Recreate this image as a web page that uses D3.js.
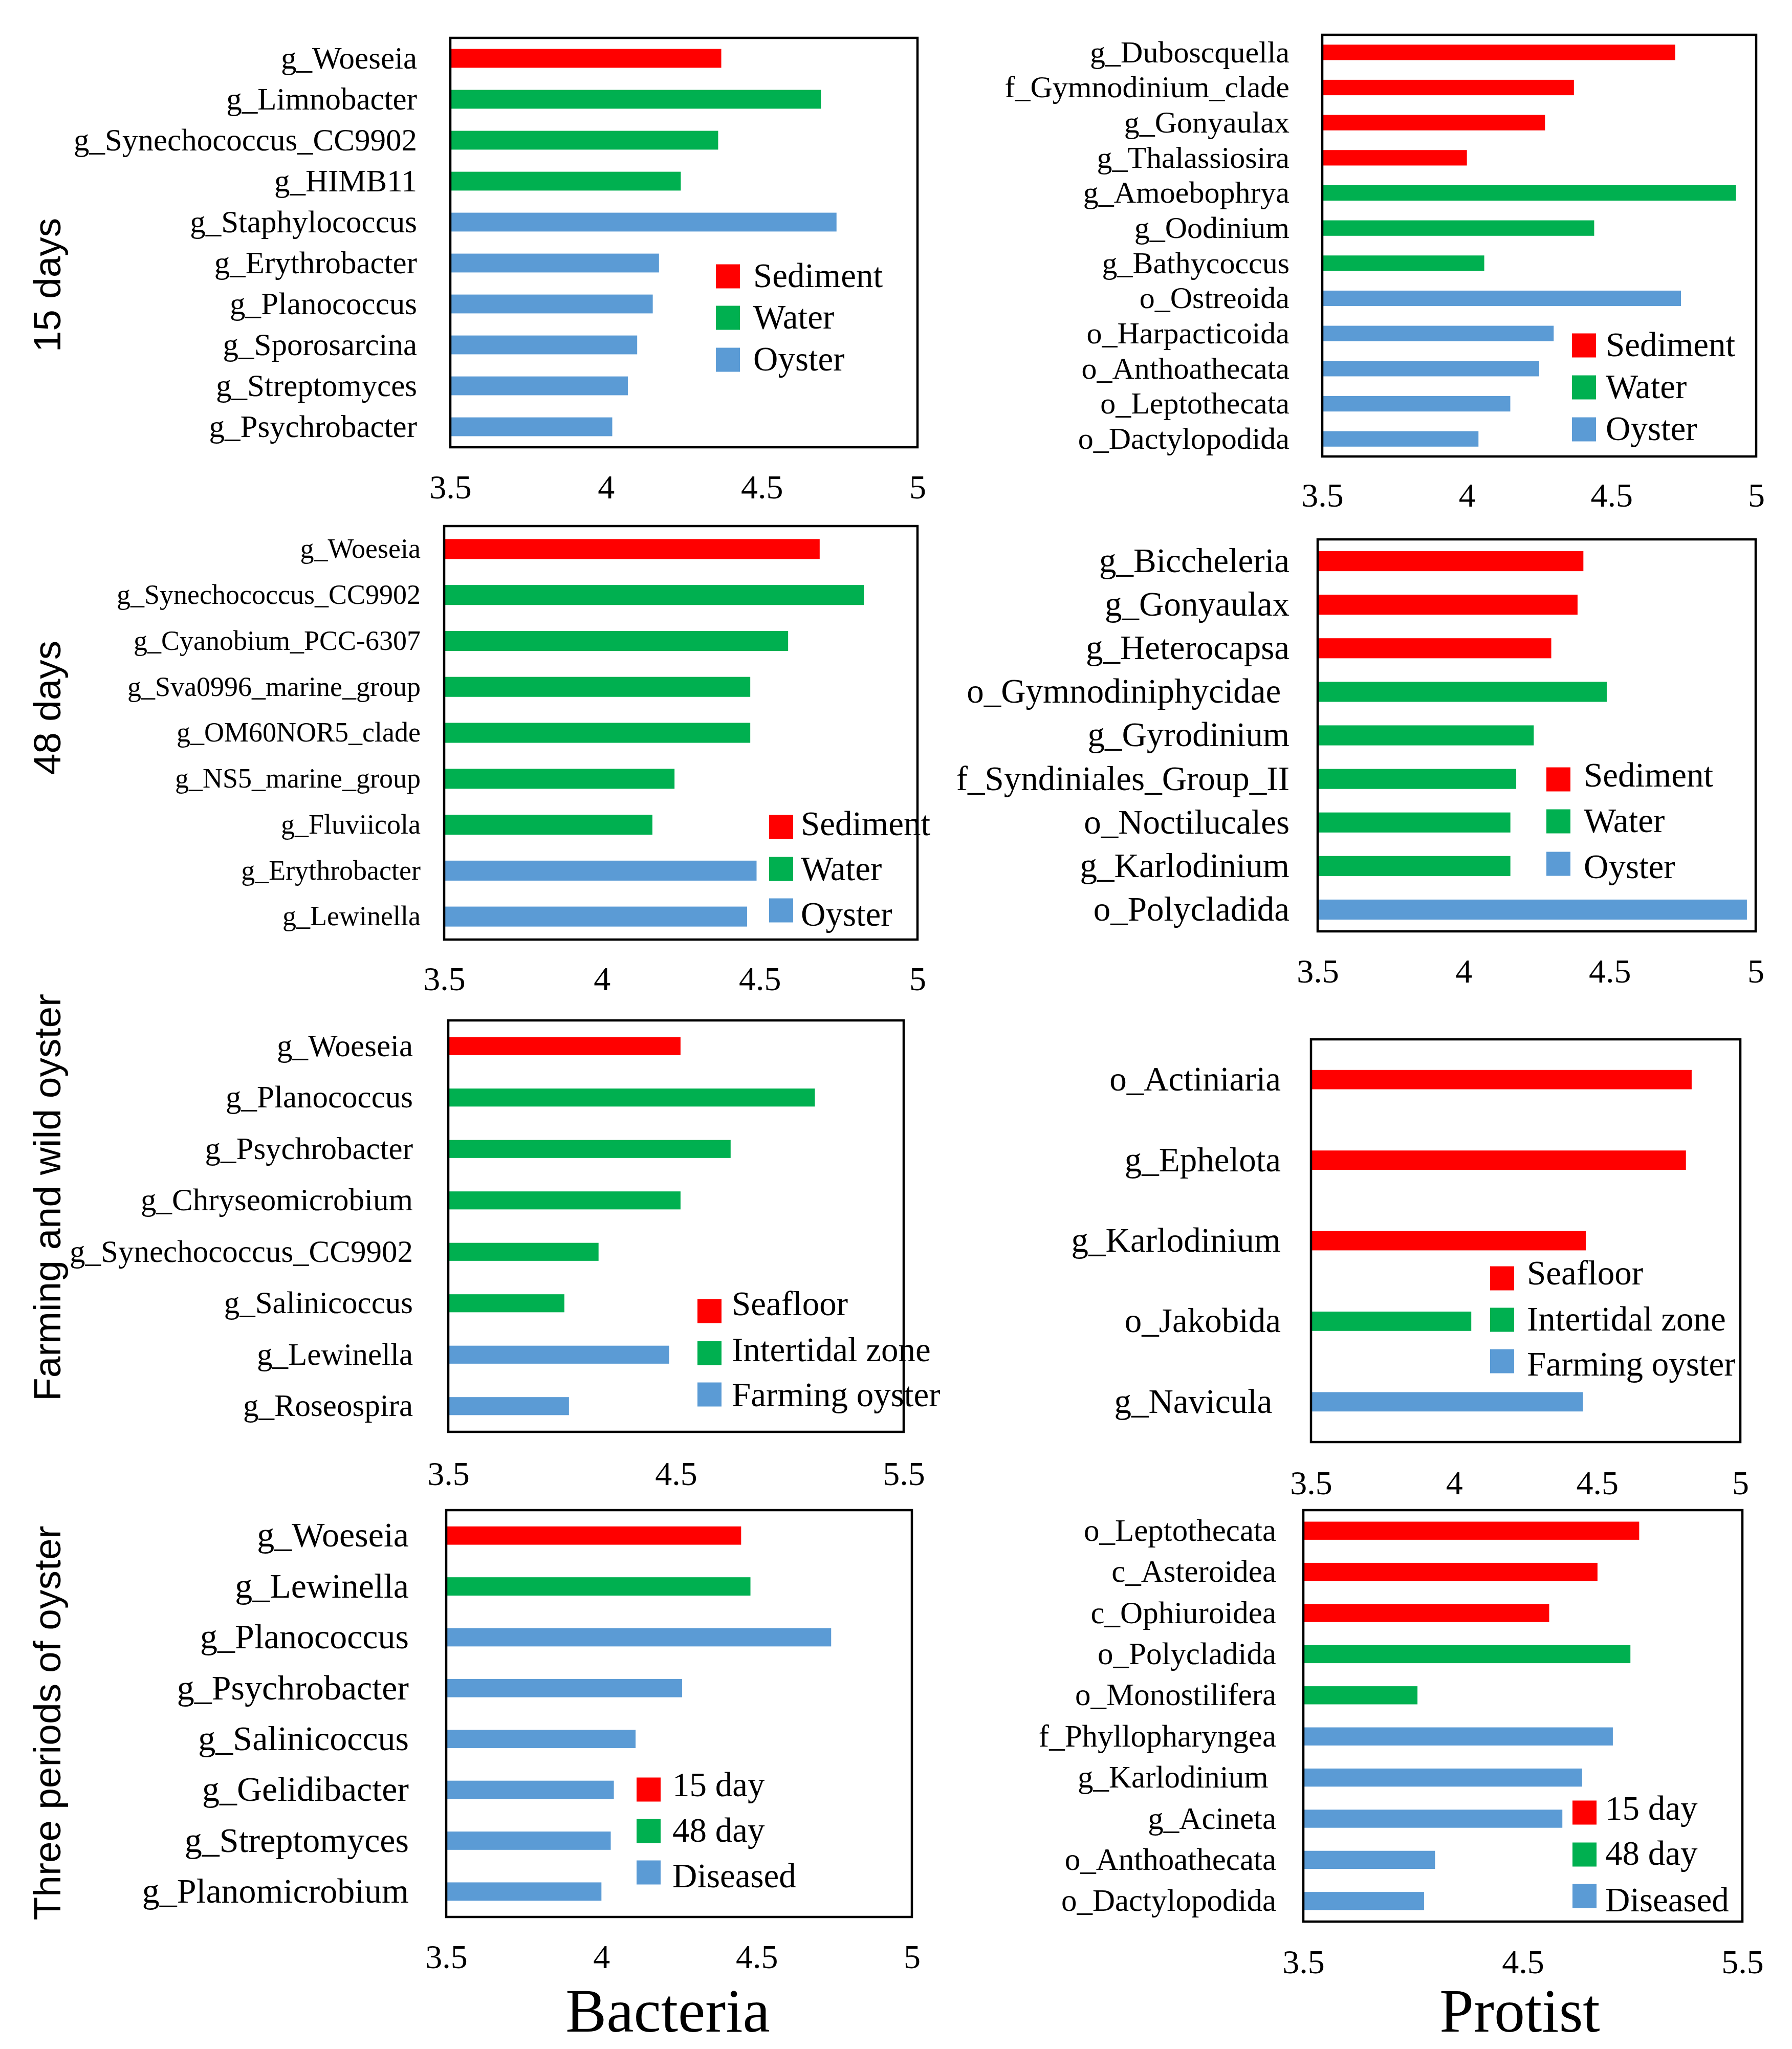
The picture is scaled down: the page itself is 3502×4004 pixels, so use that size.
<!DOCTYPE html>
<html>
<head>
<meta charset="utf-8">
<script src="https://cdn.jsdelivr.net/npm/d3@7"></script>
<style>
  html, body { margin: 0; padding: 0; background: #fff; }
  svg { display: block; }
  svg text { white-space: pre; }
</style>
</head>
<body>
<svg id="chart" width="3502" height="4004"></svg>
<script>
// ---------------- DATA ----------------
const colorsList = ["#FF0000", "#00B050", "#5B9BD5"];

const ticksA = [3.5, 4, 4.5, 5];
const ticksB = [3.5, 4.5, 5.5];

const legendHabitat = ["Sediment", "Water", "Oyster"];
const legendFarm = ["Seafloor", "Intertidal zone", "Farming oyster"];
const legendPeriod = ["15 day", "48 day", "Diseased"];

const rowTitles = ["15 days", "48 days", "Farming and wild oyster", "Three periods of oyster"];
const columnTitles = ["Bacteria", "Protist"];

// 15 days - Bacteria
const bac15Categories = ["g_Woeseia", "g_Limnobacter", "g_Synechococcus_CC9902", "g_HIMB11", "g_Staphylococcus",
  "g_Erythrobacter", "g_Planococcus", "g_Sporosarcina", "g_Streptomyces", "g_Psychrobacter"];
const bac15Values = [4.37, 4.69, 4.36, 4.24, 4.74, 4.17, 4.15, 4.10, 4.07, 4.02];
const bac15Groups = [0, 1, 1, 1, 2, 2, 2, 2, 2, 2];

// 15 days - Protist
const pro15Categories = ["g_Duboscquella", "f_Gymnodinium_clade", "g_Gonyaulax", "g_Thalassiosira", "g_Amoebophrya",
  "g_Oodinium", "g_Bathycoccus", "o_Ostreoida", "o_Harpacticoida", "o_Anthoathecata", "o_Leptothecata", "o_Dactylopodida"];
const pro15Values = [4.72, 4.37, 4.27, 4.00, 4.93, 4.44, 4.06, 4.74, 4.30, 4.25, 4.15, 4.04];
const pro15Groups = [0, 0, 0, 0, 1, 1, 1, 2, 2, 2, 2, 2];

// 48 days - Bacteria
const bac48Categories = ["g_Woeseia", "g_Synechococcus_CC9902", "g_Cyanobium_PCC-6307", "g_Sva0996_marine_group",
  "g_OM60NOR5_clade", "g_NS5_marine_group", "g_Fluviicola", "g_Erythrobacter", "g_Lewinella"];
const bac48Values = [4.69, 4.83, 4.59, 4.47, 4.47, 4.23, 4.16, 4.49, 4.46];
const bac48Groups = [0, 1, 1, 1, 1, 1, 1, 2, 2];

// 48 days - Protist
const pro48Categories = ["g_Biccheleria", "g_Gonyaulax", "g_Heterocapsa", "o_Gymnodiniphycidae ", "g_Gyrodinium",
  "f_Syndiniales_Group_II", "o_Noctilucales", "g_Karlodinium", "o_Polycladida"];
const pro48Values = [4.41, 4.39, 4.30, 4.49, 4.24, 4.18, 4.16, 4.16, 4.97];
const pro48Groups = [0, 0, 0, 1, 1, 1, 1, 1, 2];

// Farming and wild oyster - Bacteria
const bacFarmCategories = ["g_Woeseia", "g_Planococcus", "g_Psychrobacter", "g_Chryseomicrobium",
  "g_Synechococcus_CC9902", "g_Salinicoccus", "g_Lewinella", "g_Roseospira"];
const bacFarmValues = [4.52, 5.11, 4.74, 4.52, 4.16, 4.01, 4.47, 4.03];
const bacFarmGroups = [0, 1, 1, 1, 1, 1, 2, 2];

// Farming and wild oyster - Protist
const proFarmCategories = ["o_Actiniaria", "g_Ephelota", "g_Karlodinium", "o_Jakobida", "g_Navicula "];
const proFarmValues = [4.83, 4.81, 4.46, 4.06, 4.45];
const proFarmGroups = [0, 0, 0, 1, 2];

// Three periods of oyster - Bacteria
const bacPerCategories = ["g_Woeseia", "g_Lewinella", "g_Planococcus", "g_Psychrobacter", "g_Salinicoccus",
  "g_Gelidibacter", "g_Streptomyces", "g_Planomicrobium"];
const bacPerValues = [4.45, 4.48, 4.74, 4.26, 4.11, 4.04, 4.03, 4.00];
const bacPerGroups = [0, 1, 2, 2, 2, 2, 2, 2];

// Three periods of oyster - Protist
const proPerCategories = ["o_Leptothecata", "c_Asteroidea", "c_Ophiuroidea", "o_Polycladida", "o_Monostilifera",
  "f_Phyllopharyngea", "g_Karlodinium ", "g_Acineta", "o_Anthoathecata", "o_Dactylopodida"];
const proPerValues = [5.03, 4.84, 4.62, 4.99, 4.02, 4.91, 4.77, 4.68, 4.10, 4.05];
const proPerGroups = [0, 0, 0, 1, 1, 2, 2, 2, 2, 2];

// ---------------- LAYOUT ----------------
const panels = [
  { cats: bac15Categories, vals: bac15Values, groups: bac15Groups, legend: legendHabitat, ticks: ticksA,
    box: [880, 74, 1793, 874], barFrac: 0.46, labelX: 815, labelFont: 61, tickBase: 974,
    legX: 1399, legTextX: 1472, legY: [540, 621, 703], legTextY: [561, 642, 724] },
  { cats: pro15Categories, vals: pro15Values, groups: pro15Groups, legend: legendHabitat, ticks: ticksA,
    box: [2584, 68, 3432, 892], barFrac: 0.44, labelX: 2520, labelFont: 60, tickBase: 990,
    legX: 3072, legTextX: 3138, legY: [675, 757, 839], legTextY: [696, 778, 860] },
  { cats: bac48Categories, vals: bac48Values, groups: bac48Groups, legend: legendHabitat, ticks: ticksA,
    box: [868, 1028, 1793, 1836], barFrac: 0.435, labelX: 822, labelFont: 54, tickBase: 1935,
    legX: 1503, legTextX: 1565, legY: [1616, 1698, 1779], legTextY: [1632, 1720, 1809] },
  { cats: pro48Categories, vals: pro48Values, groups: pro48Groups, legend: legendHabitat, ticks: ticksA,
    box: [2575, 1054, 3431, 1820], barFrac: 0.46, labelX: 2520, labelFont: 67, tickBase: 1920,
    legX: 3022, legTextX: 3095, legY: [1523, 1605, 1688], legTextY: [1537, 1626, 1716] },
  { cats: bacFarmCategories, vals: bacFarmValues, groups: bacFarmGroups, legend: legendFarm, ticks: ticksB,
    box: [876, 1994, 1766, 2798], barFrac: 0.35, labelX: 807, labelFont: 61, tickBase: 2902,
    legX: 1363, legTextX: 1430, legY: [2562, 2644, 2725], legTextY: [2570, 2660, 2748] },
  { cats: proFarmCategories, vals: proFarmValues, groups: proFarmGroups, legend: legendFarm, ticks: ticksA,
    box: [2562, 2031, 3401, 2818], barFrac: 0.24, labelX: 2503, labelFont: 67, tickBase: 2920,
    legX: 2912, legTextX: 2984, legY: [2498, 2579, 2660], legTextY: [2510, 2600, 2688] },
  { cats: bacPerCategories, vals: bacPerValues, groups: bacPerGroups, legend: legendPeriod, ticks: ticksA,
    box: [872, 2951, 1782, 3746], barFrac: 0.36, labelX: 799, labelFont: 68, tickBase: 3846,
    legX: 1244, legTextX: 1314, legY: [3497, 3578, 3659], legTextY: [3510, 3599, 3688] },
  { cats: proPerCategories, vals: proPerValues, groups: proPerGroups, legend: legendPeriod, ticks: ticksB,
    box: [2547, 2951, 3405, 3755], barFrac: 0.44, labelX: 2494, labelFont: 61, tickBase: 3856,
    legX: 3073, legTextX: 3137, legY: [3542, 3624, 3705], legTextY: [3556, 3644, 3735] }
];

const rowTitleY = [557, 1383, 2340, 3367];
const rowTitleX = 118;
const colTitleX = [1305, 2970];
const colTitleY = 3970;

const SERIF = "'Liberation Serif', 'Times New Roman', serif";
const SANS = "'Liberation Sans', Arial, sans-serif";
const TICK_FONT = 66;
const LEG_FONT = 67;
const LEG_SQ = 47;

// ---------------- DRAW ----------------
const svg = d3.select("#chart");
svg.append("rect").attr("width", 3502).attr("height", 4004).attr("fill", "#fff");

panels.forEach(p => {
  const [x0, y0, x1, y1] = p.box;
  const maxTick = p.ticks[p.ticks.length - 1];
  const x = d3.scaleLinear().domain([p.ticks[0], maxTick]).range([x0, x1]);
  const pi = 1 - p.barFrac;
  const y = d3.scaleBand().domain(p.cats).range([y0, y1]).paddingInner(pi).paddingOuter(pi / 2);
  const color = d3.scaleOrdinal().domain([0, 1, 2]).range(colorsList);

  const g = svg.append("g");

  // bars
  g.selectAll("rect.bar").data(p.cats).join("rect")
    .attr("class", "bar")
    .attr("x", x(p.ticks[0]))
    .attr("y", d => y(d))
    .attr("width", (d, i) => x(p.vals[i]) - x(p.ticks[0]))
    .attr("height", y.bandwidth())
    .attr("fill", (d, i) => color(p.groups[i]));

  // frame
  g.append("rect")
    .attr("x", x0).attr("y", y0)
    .attr("width", x1 - x0).attr("height", y1 - y0)
    .attr("fill", "none").attr("stroke", "#000").attr("stroke-width", 4.5);

  // category axis
  const yAxis = d3.axisLeft(y).tickSize(0).tickPadding(0);
  const ya = g.append("g").attr("transform", `translate(${p.labelX},0)`).call(yAxis);
  ya.select(".domain").remove();
  ya.selectAll("text").attr("font-family", SERIF).attr("font-size", p.labelFont).attr("fill", "#000");

  // value axis
  const xAxis = d3.axisBottom(x).tickValues(p.ticks).tickFormat(d => String(d)).tickSize(0).tickPadding(0);
  const xa = g.append("g").attr("transform", `translate(0,${p.tickBase - 0.71 * TICK_FONT})`).call(xAxis);
  xa.select(".domain").remove();
  xa.selectAll("text").attr("font-family", SERIF).attr("font-size", TICK_FONT).attr("fill", "#000");

  // legend
  const lg = g.append("g");
  p.legend.forEach((name, i) => {
    lg.append("rect")
      .attr("x", p.legX).attr("y", p.legY[i] - LEG_SQ / 2)
      .attr("width", LEG_SQ).attr("height", LEG_SQ)
      .attr("fill", colorsList[i]);
    lg.append("text")
      .attr("x", p.legTextX).attr("y", p.legTextY[i])
      .attr("font-family", SERIF).attr("font-size", LEG_FONT)
      .attr("fill", "#000")
      .text(name);
  });
});

// row titles
rowTitles.forEach((t, i) => {
  svg.append("text")
    .attr("transform", `translate(${rowTitleX},${rowTitleY[i]}) rotate(-90)`)
    .attr("text-anchor", "middle")
    .attr("font-family", SANS).attr("font-size", 75).attr("fill", "#000")
    .text(t);
});

// column titles
columnTitles.forEach((t, i) => {
  svg.append("text")
    .attr("x", colTitleX[i]).attr("y", colTitleY)
    .attr("text-anchor", "middle")
    .attr("font-family", SERIF).attr("font-size", 120).attr("fill", "#000")
    .text(t);
});
</script>
</body>
</html>
